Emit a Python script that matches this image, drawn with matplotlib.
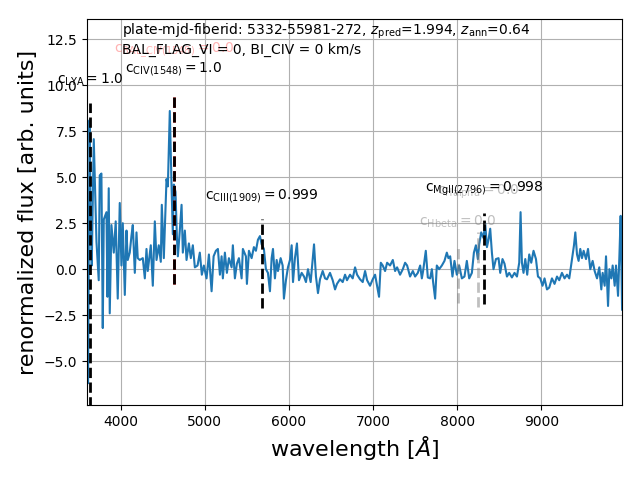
import numpy as np
import matplotlib
matplotlib.use("Agg")
import matplotlib.pyplot as plt

# spectrum (wavelength in Angstrom, renormalized flux)
wave = [3599, 3611, 3629, 3643, 3655, 3679, 3711, 3738, 3750, 3770, 3786, 3798,
        3830, 3842, 3857, 3869, 3889, 3917, 3940, 3964, 3988, 4008, 4024, 4048,
        4068, 4083, 4107, 4127, 4143, 4167, 4187, 4202, 4226, 4262, 4286, 4306,
        4321, 4357, 4381, 4405, 4425, 4452, 4476, 4488, 4512, 4544, 4560, 4583,
        4604, 4619, 4631, 4651, 4667, 4679, 4702, 4723, 4738, 4762, 4782, 4810,
        4833, 4857, 4881, 4913, 4940, 4964, 4988, 5020, 5048, 5080, 5104,
        5131, 5155, 5179, 5199, 5214, 5238, 5262, 5286, 5318, 5333, 5357, 5381,
        5405, 5437, 5452, 5488, 5500, 5524, 5556, 5583, 5607, 5631, 5655, 5675,
        5702, 5726, 5750, 5774, 5794, 5810, 5833, 5854, 5869, 5901, 5925, 5940,
        5964, 5988, 6012, 6032, 6048, 6071, 6095, 6119, 6151, 6179, 6202, 6226,
        6258, 6282, 6298, 6321, 6345, 6369, 6401, 6429, 6452, 6488, 6520, 6548,
        6571, 6607, 6639, 6667, 6690, 6726, 6758, 6786, 6810, 6845, 6877, 6905,
        6929, 6964, 6996, 7024, 7044, 7071, 7092, 7115, 7143, 7167, 7202, 7235,
        7262, 7286, 7321, 7354, 7381, 7405, 7440, 7473, 7500,
        7532, 7560, 7580, 7595, 7627, 7651, 7679, 7699, 7714, 7738, 7758, 7786,
        7818, 7849, 7877, 7896, 7917, 7944, 7968, 7996, 8024, 8056, 8087, 8115,
        8143, 8175, 8199, 8223, 8246, 8262, 8286, 8313, 8333, 8354, 8373, 8393,
        8413, 8432, 8461, 8492, 8512, 8539, 8563, 8592, 8619, 8651, 8682, 8711,
        8738, 8754, 8770, 8789, 8810, 8833, 8857, 8881, 8908, 8937, 8961, 8988,
        9015, 9039, 9068, 9095, 9127, 9158, 9187, 9214, 9246, 9277, 9306, 9333,
        9365, 9389, 9405, 9425, 9444, 9464, 9484, 9504, 9532, 9556, 9583, 9611,
        9635, 9663, 9690, 9714, 9730, 9754, 9770, 9794, 9810, 9833, 9849, 9873,
        9889, 9913, 9929, 9944, 9961]

flux = [1.5, -6.2, 8.1, 2.5, 0.2, 7.07, 1.5, -0.6, 5.1, 5.2, -3.2, 2.7,
        3.1, -1.5, 4.4, -2.4, 2.4, 0.9, 2.6, -1.6, 3.6, 0.2, 2.5, -1.4,
        2.1, 0.5, 0.9, 1.8, 2.4, -0.2, 2.0, 0.6, 0.5, 0.6, -0.5, 1.1,
        -0.1, 1.3, -0.9, 2.6, 0.5, 1.3, 0.4, 3.5, 0.6, 4.9, 4.5, 8.6,
        4.5, 1.9, 4.6, 4.2, 1.8, 0.7, 2.1, 3.5, 0.9, 2.1, 0.5, 1.4,
        0.6, 1.3, 0.1, 0.2, 0.9, -0.3, 0.2, -0.5, 0.8, -1.2, 0.7,
        1.0, 1.1, -0.3, 0.7, -0.5, 0.9, -0.2, 0.6, 0.1, 1.3, -0.5, 0.3,
        0.6, -0.5, 1.1, 0.7, -0.8, 1.0, 0.6, 1.2, 1.0, 1.6, 1.8, 1.35,
        1.1, 0.0, -0.2, -1.2, 0.6, 1.1, -0.5, 0.5, -0.1, 0.6, 0.2, -1.6,
        -0.6, 0.1, 0.5, 1.3, -0.7, 0.6, 1.4, -0.6, -0.2, -0.4, -0.7, 0.0,
        -0.7, 0.5, 1.35, -0.4, -1.3, -0.55, -0.1, -0.5, -0.55, -0.2, -0.6, -1.1,
        -0.8, -0.55, -0.7, -0.3, -0.6, -0.3, -0.5, 0.1, -0.3, -0.55, -0.7, -0.1,
        -0.6, -0.9, -0.55, -0.3, -0.8, -1.5, 0.35, 0.2, -0.1, 0.35, 0.2, 0.5,
        -0.1, 0.1, -0.3, 0.0, 0.35, 0.2, -0.4, -0.1, -0.4,
        -0.2, 0.2, -0.5, -0.1, 1.0, -0.45, -0.5, 0.0, -0.7, -1.6, 0.2, 0.0,
        0.2, 0.45, 0.9, 0.6, 0.7, -0.4, 0.45, -0.3, 0.2, -0.5, -0.4, 0.45,
        -0.5, -0.2, 0.9, 1.3, 0.55, 1.35, 2.0, 1.7, 2.5, 1.2, 1.6, 2.2,
        0.9, 0.0, 0.55, 0.6, -0.2, 0.55, 0.3, -0.4, -0.2, -0.45, -0.2, -0.4,
        0.35, 3.1, 0.35, -0.2, 0.55, -0.3, 0.8, 0.35, 1.0, 0.55, -0.4, -0.5,
        -0.9, -0.5, -1.1, -1.0, -0.5, -0.8, -0.4, -0.6, -0.2, -0.5, -0.3, -0.5,
        0.55, 1.3, 2.0, 0.8, 0.45, 1.1, 0.6, 1.0, 0.55, 1.1, 0.0, 0.45,
        -0.1, -0.5, 0.1, -1.1, -0.2, -0.9, 0.7, -2.0, 0.0, -0.5, 0.2, -0.9,
        0.2, -1.45, 0.7, 2.9, -2.2]

# detected lines: name, observed wavelength, dashed line extent, confidence
line_names = ['LYA', 'CIV(1548)', 'CIII(1909)', 'MgII(2796)']
line_wave = [3631, 4631, 5679, 8321]
line_lo = [-7.5, -0.82, -2.12, -1.9]
line_hi = [9.02, 9.57, 2.72, 3.04]
line_conf = [1.0, 1.0, 0.999, 0.998]
label_y = [10.27, 10.87, 3.97, 4.35]

# lines below threshold (drawn in gray)
weak_names = ['Hbeta', 'Halpha']
weak_wave = [8012, 8250]
weak_lo = [-1.85, -2.07]
weak_hi = [1.3, 2.0]
weak_conf = [0.0, 0.0]
weak_label_y = [2.55, 4.18]

# BAL line
bal_wave = 4631
bal_conf = 0.0

fig = plt.figure(figsize=(6.4, 4.8), dpi=100)
ax = fig.add_axes([0.136, 0.156, 0.836, 0.804])

ax.plot(wave, flux, color='#1f77b4', lw=1.5)

# BAL (red, underneath the CIV line)
ax.plot([bal_wave, bal_wave], [line_lo[1], line_hi[1]], color='red', ls='--', lw=2)
ax.text(bal_wave, 11.9, r'$\rm c_{BAL\_CIV(1548)} = %.1f$' % bal_conf,
        color='red', alpha=0.3, ha='center', va='center', fontsize=10)

for name, w, lo, hi, c, ly in zip(weak_names, weak_wave, weak_lo, weak_hi,
                                  weak_conf, weak_label_y):
    ax.plot([w, w], [lo, hi], color='grey', alpha=0.5, ls='--', lw=2)
    ax.text(w, ly, r'$\rm c_{%s} = %.1f$' % (name, c), color='grey', alpha=0.5,
            ha='center', va='center', fontsize=10)

for name, w, lo, hi, c, ly in zip(line_names, line_wave, line_lo, line_hi,
                                  line_conf, label_y):
    ax.plot([w, w], [lo, hi], color='k', ls='--', lw=2)
    ax.text(w, ly, r'$\rm c_{%s} = %s$' % (name, c), ha='center', va='center',
            fontsize=10)

ax.text(4010, 12.93, r'plate-mjd-fiberid: 5332-55981-272, $z_{\rm pred}$=1.994, $z_{\rm ann}$=0.64',
        va='center', fontsize=10)
ax.text(4010, 11.9, 'BAL_FLAG_VI = 0, BI_CIV = 0 km/s', va='center', fontsize=10)

ax.set_xlim(wave[0], wave[-1])
ax.set_ylim(-7.39, 13.59)
ax.set_xticks([4000, 5000, 6000, 7000, 8000, 9000])
ax.grid(True)
ax.set_xlabel(r'wavelength [$\AA$]', fontsize=16)
ax.set_ylabel('renormalized flux [arb. units]', fontsize=16)

fig.savefig('out.png', dpi=100)
